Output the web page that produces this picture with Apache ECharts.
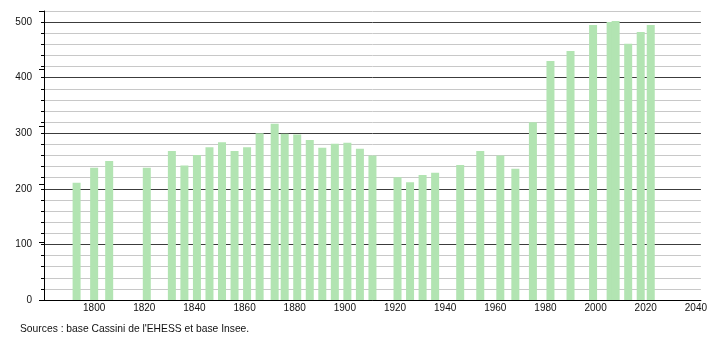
<!DOCTYPE html>
<html>
<head>
<meta charset="utf-8">
<script src="https://cdn.jsdelivr.net/npm/echarts@6/dist/echarts.min.js"></script>
<style>
html,body{margin:0;padding:0;background:#fff;}
#chart{width:710px;height:340px;}
</style>
</head>
<body>
<div id="chart"></div>
<script>
const years = [1793,1800,1806,1821,1831,1836,1841,1846,1851,1856,1861,1866,1872,1876,1881,1886,1891,1896,1901,1906,1911,1921,1926,1931,1936,1946,1954,1962,1968,1975,1982,1990,1999,2006,2008,2013,2018,2022];
const population = [211,238,250,238,268,242,261,275,284,268,275,300,317,299,298,288,274,281,283,272,260,221,212,225,229,243,268,260,236,320,430,448,495,500,502,461,482,495];
const xTickLabels = [1800,1820,1840,1860,1880,1900,1920,1940,1960,1980,2000,2020,2040];
const yTickLabels = [0,100,200,300,400,500];
const sourceText = "Sources : base Cassini de l'EHESS et base Insee.";

const chart = echarts.init(document.getElementById('chart'), null, {renderer:'canvas'});
const font = 'Liberation Sans, Arial, sans-serif';
chart.setOption({
  animation:false,
  backgroundColor:'#fff',
  grid:{left:44,right:9,top:11,bottom:40},
  xAxis:{
    type:'value', min:1780, max:2042, interval:20,
    axisLine:{show:true,onZero:false,lineStyle:{color:'#000',width:1}},
    axisTick:{show:false},
    splitLine:{show:false},
    axisLabel:{color:'#111',fontSize:10,fontFamily:font,margin:3,
      formatter:v=> xTickLabels.includes(v)?String(v):''}
  },
  yAxis:[{
    type:'value', min:0, max:520, interval:20,
    axisLine:{show:true,lineStyle:{color:'#000',width:1}},
    axisTick:{show:true,length:3,lineStyle:{color:'#000'}},
    splitLine:{show:true,lineStyle:{color:['#3c3c3c','#c8c8c8','#c8c8c8','#c8c8c8','#c8c8c8'],width:1}},
    axisLabel:{color:'#111',fontSize:10,fontFamily:font,margin:12,
      formatter:v=> yTickLabels.includes(v)?String(v):''}
  },{
    type:'value', min:0, max:500, interval:100, position:'left', offset:0,
    axisLine:{show:false},
    axisTick:{show:true,length:5,lineStyle:{color:'#000'}},
    splitLine:{show:false},
    axisLabel:{show:false}
  }],
  graphic:[{type:'text',left:20,top:324,style:{text:sourceText,fill:'#111',font:'10.3px '+font}}],
  series:[{
    type:'bar',
    barWidth:8,
    itemStyle:{color:'#b2e4b2'},
    data:years.map((y,i)=>[y,population[i]])
  }]
});
</script>
</body>
</html>
